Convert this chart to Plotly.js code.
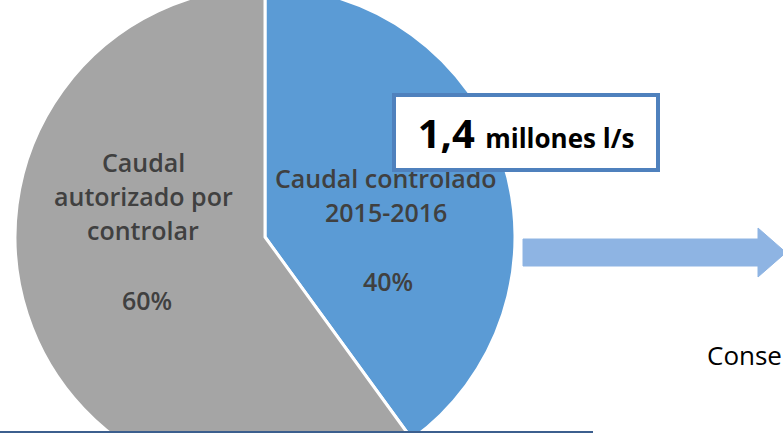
<!DOCTYPE html>
<html>
<head>
<meta charset="utf-8">
<script src="https://cdn.plot.ly/plotly-3.0.1.min.js"></script>
<style>
  html, body { margin: 0; padding: 0; overflow: hidden; background: #ffffff; width: 783px; height: 433px; }
  #chart { position: absolute; left: 0; top: -60px; width: 783px; height: 560px; }
</style>
</head>
<body>
<div id="chart"></div>
<script>
// ---- data ----
const categories = ["Caudal controlado 2015-2016", "Caudal autorizado por controlar"];
const values = [40, 60];
const labelLines = [["Caudal controlado", "2015-2016"], ["Caudal", "autorizado por", "controlar"]];
const flowValue = "1,4";
const flowUnit = "millones l/s";
const sideText = "Conse";

// ---- styles ----
const sliceColors = ["#5b9bd5", "#a5a5a5"];
const W = 783, H = 560, OFF = 60;
const px = x => x / W;
const py = y => 1 - (y + OFF) / H;

// pie geometry (window pixels)
const cx = 265, cy = 237, r = 250;

const pie = {
  type: "pie",
  labels: categories,
  values: values,
  sort: false,
  direction: "clockwise",
  rotation: 0,
  marker: { colors: sliceColors, line: { color: "#ffffff", width: 3 } },
  textinfo: "none",
  hoverinfo: "skip",
  showlegend: false,
  domain: { x: [px(cx - r), px(cx + r)], y: [py(cy + r), py(cy - r)] }
};

const labelFont = { family: "Open Sans, sans-serif", size: 25, color: "#404040", weight: 600 };
const labelPos = [
  { x: 386, ys: [178, 212], px: 388, py: 281 },
  { x: 143, ys: [162, 196, 230], px: 147, py: 300 }
];

const annotations = [];
labelLines.forEach((lines, i) => {
  lines.forEach((t, j) => {
    annotations.push({
      xref: "paper", yref: "paper", x: px(labelPos[i].x), y: py(labelPos[i].ys[j]),
      xanchor: "center", yanchor: "middle", showarrow: false, text: t, font: labelFont
    });
  });
  annotations.push({
    xref: "paper", yref: "paper", x: px(labelPos[i].px), y: py(labelPos[i].py),
    xanchor: "center", yanchor: "middle", showarrow: false,
    text: values[i] + "%", font: labelFont
  });
});

// box with total flow (drawn after slice labels so it covers them)
annotations.push({
  xref: "paper", yref: "paper", x: px(392), y: py(93),
  xanchor: "left", yanchor: "top", showarrow: false,
  width: 260, height: 71, align: "center", valign: "middle",
  bgcolor: "#ffffff", bordercolor: "#4f81bd", borderwidth: 4, borderpad: 0,
  text: flowValue + ' <span style="font-size:26px">' + flowUnit + '</span>',
  font: { family: "Open Sans, sans-serif", size: 40, color: "#000000", weight: 700 }
});

annotations.push({
  xref: "paper", yref: "paper", x: px(705), y: py(355),
  xanchor: "left", yanchor: "middle", showarrow: false,
  text: sideText,
  font: { family: "Open Sans, sans-serif", size: 26, color: "#000000" }
});

// arrow and bottom rule
const ap = [[523, 239], [758, 239], [758, 228], [786, 252.5], [758, 277], [758, 266], [523, 266]];
const arrowPath = "M " + ap.map(p => px(p[0]) + "," + py(p[1])).join(" L ") + " Z";

const shapes = [
  { type: "path", xref: "paper", yref: "paper", path: arrowPath,
    fillcolor: "#8eb4e3", line: { color: "#8eb4e3", width: 1 }, layer: "above" },
  { type: "line", xref: "paper", yref: "paper", x0: px(0), x1: px(593), y0: py(432), y1: py(432),
    line: { color: "#3c5f8e", width: 2 }, layer: "above" }
];

const layout = {
  width: W, height: H,
  margin: { l: 0, r: 0, t: 0, b: 0, pad: 0 },
  paper_bgcolor: "#ffffff",
  plot_bgcolor: "#ffffff",
  showlegend: false,
  annotations: annotations,
  shapes: shapes
};

Plotly.newPlot("chart", [pie], layout, { displayModeBar: false, staticPlot: true });
</script>
</body>
</html>
